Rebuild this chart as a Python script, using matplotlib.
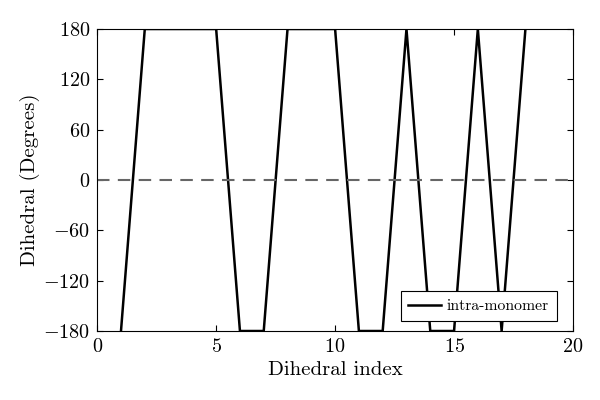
import numpy as np
import matplotlib
matplotlib.use("Agg")
import matplotlib.pyplot as plt

# Datos
indice = [1, 2, 3, 4, 5, 6, 7, 8, 9, 10, 11, 12, 13, 14, 15, 16, 17, 18]
diedro = [-180, 180, 180, 180, 180, -180, -180, 180, 180, 180,
          -180, -180, 180, -180, -180, 180, -180, 180]
yticks = [-180, -120, -60, 0, 60, 120, 180]
xticks = [0, 5, 10, 15, 20]

plt.rcParams['font.family'] = 'serif'
plt.rcParams['font.serif'] = ['cmr10']
plt.rcParams['mathtext.fontset'] = 'cm'
plt.rcParams['axes.formatter.use_mathtext'] = True

fig = plt.figure(figsize=(6, 4), dpi=100)
ax = fig.add_axes([0.162, 0.1725, 0.793, 0.755])

ax.plot(indice, diedro, color='black', linewidth=1.8, label='intra-monomer')
ax.axhline(0, color='#666666', linestyle='--', linewidth=1.5, dashes=(6, 4))

ax.set_xlim(0, 20)
ax.set_ylim(-180, 180)
ax.set_xticks(xticks)
ax.set_yticks(yticks)
ax.set_xticklabels([f'${v}$' for v in xticks])
ax.set_yticklabels([f'${v}$' for v in yticks])
ax.tick_params(direction='in', top=True, right=True, labelsize=14.5, length=4,
               width=0.8, pad=5)
ax.set_xlabel('Dihedral index', fontsize=15, labelpad=4)
ax.set_ylabel('Dihedral (Degrees)', fontsize=15, labelpad=2)

leg = ax.legend(loc='lower right', bbox_to_anchor=(0.966, 0.033), fontsize=11.3,
                fancybox=False, framealpha=1, edgecolor='black',
                handlelength=2.1, borderaxespad=0, borderpad=0.5,
                handletextpad=0.35)
leg.get_frame().set_linewidth(0.8)

fig.savefig('out.png', dpi=100)
